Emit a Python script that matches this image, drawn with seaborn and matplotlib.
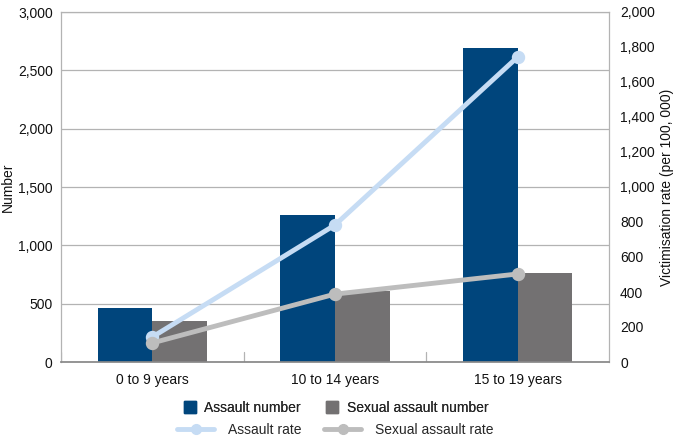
import matplotlib
matplotlib.use("Agg")
import matplotlib.pyplot as plt
import seaborn as sns
import pandas as pd
from matplotlib.lines import Line2D
from matplotlib.ticker import FuncFormatter, MultipleLocator

categories = ["0 to 9 years", "10 to 14 years", "15 to 19 years"]
assault_number = [465, 1262, 2690]
sexual_assault_number = [355, 610, 765]
assault_rate = [143, 783, 1743]
sexual_assault_rate = [109, 388, 503]

sns.set_theme(style="white")
plt.rcParams['font.family'] = ['Liberation Sans', 'DejaVu Sans']
plt.rcParams['font.size'] = 10

c_assault = "#00457c"
c_sexual = "#737172"
c_arate = "#c6dcf4"
c_srate = "#bdbdbd"

bars = pd.DataFrame({
    "Age": categories * 2,
    "Value": assault_number + sexual_assault_number,
    "Series": ["Assault number"] * 3 + ["Sexual assault number"] * 3,
})
lines = pd.DataFrame({
    "Age": categories * 2,
    "Value": assault_rate + sexual_assault_rate,
    "Series": ["Assault rate"] * 3 + ["Sexual assault rate"] * 3,
})

fig = plt.figure(figsize=(6.75, 4.48), dpi=100)
ax = fig.add_axes([61 / 675, 1 - 362 / 448, 548 / 675, 350 / 448])

sns.barplot(data=bars, x="Age", y="Value", hue="Series",
            palette=[c_assault, c_sexual], width=0.6, gap=0,
            saturation=1, ax=ax, legend=False, edgecolor="none")
ax.set_xlim(-0.5, 2.5)
ax.set_ylim(0, 3000)
ax.yaxis.set_major_locator(MultipleLocator(500))
ax.yaxis.set_major_formatter(FuncFormatter(lambda v, p: f"{int(v):,}"))
ax.grid(axis="y", color="#b3b3b3", linewidth=0.9)
ax.set_axisbelow(True)
ax.set_xlabel("")
ax.set_ylabel("Number", fontsize=10, color="#111111")
ax.yaxis.set_label_coords((15 - 61) / 548, 0.5)
for s in ["left", "right", "top"]:
    ax.spines[s].set_color("#b3b3b3")
    ax.spines[s].set_linewidth(0.9)
ax.spines["bottom"].set_color("#888888")
ax.tick_params(axis="both", length=0, labelsize=10, colors="#111111", pad=8)
ax.tick_params(axis="y", pad=6)

ax2 = ax.twinx()
sns.pointplot(data=lines, x="Age", y="Value", hue="Series",
              palette=[c_arate, c_srate], dodge=False, markers="o",
              markersize=7, linewidth=3.5, ax=ax2, legend=False,
              errorbar=None)
ax2.set_xlim(-0.5, 2.5)
ax2.set_ylim(0, 2000)
ax2.yaxis.set_major_locator(MultipleLocator(200))
ax2.yaxis.set_major_formatter(FuncFormatter(lambda v, p: f"{int(v):,}"))
ax2.set_ylabel("Victimisation rate (per 100, 000)", fontsize=10, color="#111111")
ax2.yaxis.set_label_coords((660 - 61) / 548, 0.5)
ax2.tick_params(axis="y", length=0, labelsize=10, colors="#111111", pad=8)
for s in ax2.spines.values():
    s.set_visible(False)

# small category separator ticks
for xb in [-0.5, 0.5, 1.5]:
    ax.plot([xb, xb], [0, 85], color="#b3b3b3", linewidth=0.9, zorder=0.5)

bar_handles = [
    Line2D([0], [0], color=c_assault, lw=0, marker="s", markersize=9, label="Assault number"),
    Line2D([0], [0], color=c_sexual, lw=0, marker="s", markersize=9, label="Sexual assault number"),
]
line_handles = [
    Line2D([0], [0], color=c_arate, lw=3.5, marker="o", markersize=7, label="Assault rate"),
    Line2D([0], [0], color=c_srate, lw=3.5, marker="o", markersize=7, label="Sexual assault rate"),
]
leg1 = fig.legend(handles=bar_handles, ncol=2, loc="center",
                  bbox_to_anchor=(336 / 675, 1 - 408 / 448), frameon=False,
                  fontsize=10, handlelength=0.9, handletextpad=0.6,
                  columnspacing=1.8, borderpad=0)
fig.add_artist(leg1)
fig.legend(handles=line_handles, ncol=2, loc="center",
           bbox_to_anchor=(335 / 675, 1 - 430 / 448), frameon=False,
           fontsize=10, handlelength=2.7, handletextpad=0.95,
           columnspacing=1.65, borderpad=0)

fig.savefig("out.png", dpi=100)
